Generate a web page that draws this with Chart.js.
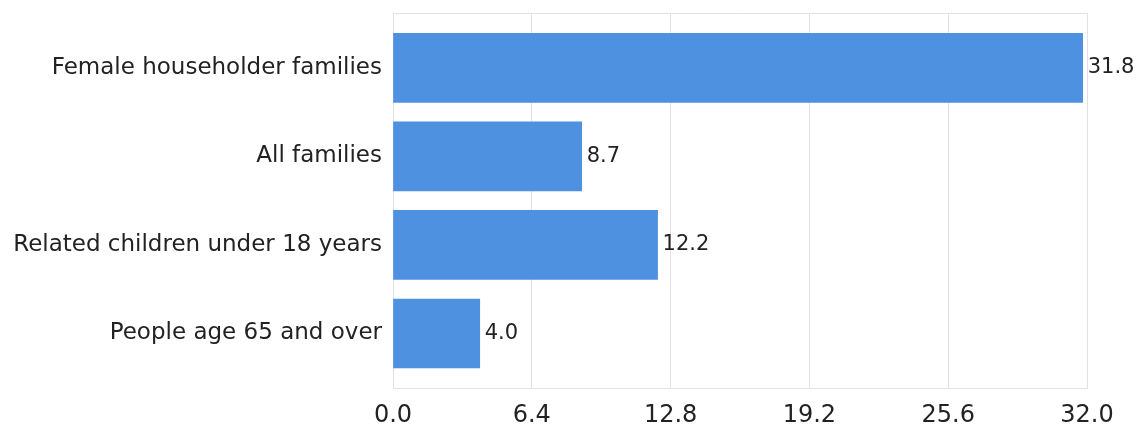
<!DOCTYPE html>
<html>
<head>
<meta charset="utf-8">
<script src="https://cdn.jsdelivr.net/npm/chart.js@4/dist/chart.umd.min.js"></script>
<style>
  html, body { margin: 0; padding: 0; background: #fff; }
  #wrap { width: 1140px; height: 433px; }
</style>
</head>
<body>
<div id="wrap"><canvas id="povertyChart" width="1140" height="433"></canvas></div>
<script>
"use strict";

const categories = [
  "Female householder families",
  "All families",
  "Related children under 18 years",
  "People age 65 and over"
];
const percentBelow = [31.8, 8.7, 12.2, 4.0];
const xTicks = [0, 6.4, 12.8, 19.2, 25.6, 32.0];

const gridGray = "#e2e2e2";
const fontFamily = "'DejaVu Sans', Verdana, sans-serif";

// writes the value just past the end of each bar
const valueLabels = {
  id: "valueLabels",
  afterDatasetsDraw(chart) {
    const ctx = chart.ctx;
    const meta = chart.getDatasetMeta(0);
    ctx.save();
    ctx.font = "21px " + fontFamily;
    ctx.fillStyle = "#222";
    ctx.textAlign = "left";
    ctx.textBaseline = "middle";
    meta.data.forEach((bar, i) => {
      ctx.fillText(percentBelow[i].toFixed(1), bar.x + 5, bar.y);
    });
    ctx.restore();
  }
};

const canvas = document.getElementById("povertyChart");
const chart = new Chart(canvas, {
  type: "bar",
  data: {
    datasets: [
      {
        data: percentBelow.map((v, i) => ({ x: v, y: i })),
        backgroundColor: "#4d91e0",
        borderWidth: 0,
        barThickness: 69
      }
    ]
  },
  options: {
    indexAxis: "y",
    responsive: false,
    animation: false,
    layout: { padding: { top: 13, right: 53, left: 0, bottom: 0 } },
    plugins: {
      legend: { display: false },
      tooltip: { enabled: false }
    },
    scales: {
      x: {
        type: "linear",
        position: "bottom",
        min: 0,
        max: 32,
        afterBuildTicks: (scale) => {
          scale.ticks = xTicks.map((v) => ({ value: v }));
        },
        afterFit: (scale) => {
          scale.height = 45;
        },
        grid: { color: gridGray, drawTicks: false },
        border: { color: gridGray },
        ticks: {
          padding: 13,
          color: "#222",
          font: { family: fontFamily, size: 24 },
          callback: (v) => Number(v).toFixed(1)
        }
      },
      top: {
        type: "linear",
        position: "top",
        axis: "x",
        min: 0,
        max: 32,
        afterFit: (scale) => {
          scale.height = 0;
        },
        grid: { display: false, drawTicks: false },
        border: { color: gridGray },
        ticks: { display: false }
      },
      y: {
        type: "linear",
        reverse: true,
        offset: false,
        min: -0.62,
        max: 3.616,
        afterBuildTicks: (scale) => {
          scale.ticks = categories.map((c, i) => ({ value: i }));
        },
        afterFit: (scale) => {
          scale.width = 393;
          scale.paddingTop = 0;
          scale.paddingBottom = 0;
        },
        grid: { display: false, drawTicks: false },
        border: { color: gridGray },
        ticks: {
          padding: 11,
          color: "#222",
          font: { family: fontFamily, size: 23 },
          callback: (v) => categories[v]
        }
      }
    }
  },
  plugins: [valueLabels]
});
</script>
</body>
</html>
